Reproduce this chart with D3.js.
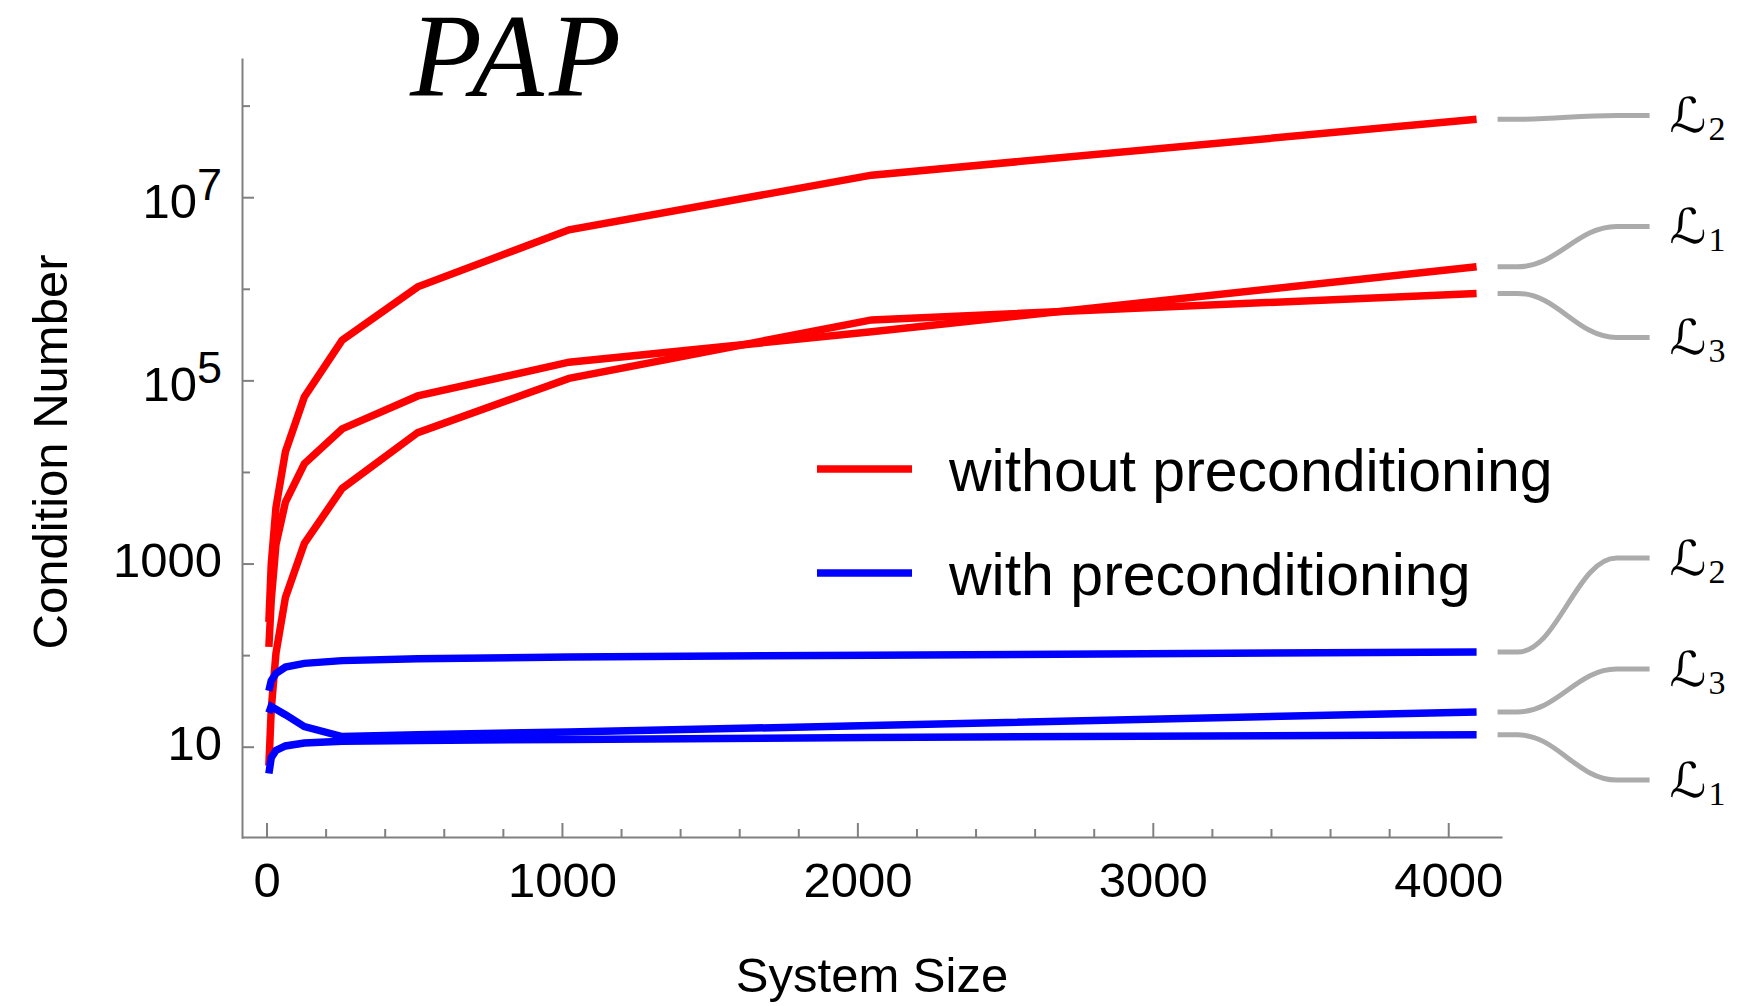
<!DOCTYPE html>
<html>
  <head>
    <meta charset="utf-8">
    <title>PAP condition numbers</title>
    <script src="https://cdn.jsdelivr.net/npm/d3@7"></script>
    <style>
      body { margin: 0; background: #fff; }
      #chart { display: block; width: 1753px; height: 1006px; font-family: "Liberation Sans", Arial, sans-serif; }
      .axis path, .axis line { stroke: #808080; stroke-width: 2; }
      .axis text { font-size: 49px; fill: #000; font-family: "Liberation Sans", Arial, sans-serif; }
      .series { fill: none; stroke-width: 7.5; stroke-linejoin: miter; stroke-linecap: butt; }
      .connector { fill: none; stroke: #ababab; stroke-width: 5; }
      .legendText { font-size: 59px; }
      .axisTitle { font-size: 49px; }
      #title { font-family: "Liberation Serif", "Times New Roman", serif; font-style: italic; font-size: 118px; letter-spacing: 5px; }
      .seriesLabel { font-family: "DejaVu Serif", "DejaVu Sans", serif; font-size: 48px; }
      .seriesSub { font-family: "Liberation Serif", serif; font-size: 34px; }
    </style>
  </head>

  <body>
    <svg id="chart">
      <text id="title">PAP</text>
      <g id="xAxisGroup" class="axis"></g>
      <g id="xMinorGroup" class="axis"></g>
      <g id="yAxisGroup" class="axis"></g>
      <g id="yMinorGroup" class="axis"></g>
      <text id="yLabel" class="axisTitle">Condition Number</text>
      <text id="xLabel" class="axisTitle">System Size</text>
      <g id="chartGroup"></g>
      <g id="connectorGroup"></g>
      <g id="legend"></g>
    </svg>

    <script>
      // data: system sizes and condition numbers
      const sizes = [8, 16, 32, 64, 128, 256, 512, 1024, 2048, 4096];

      // without preconditioning
      const redL2 = [230, 980, 4100, 16600, 66000, 275000, 1.05e6, 4.4e6, 1.74e7, 7.1e7];
      const redL1 = [123, 400, 1620, 4680, 12300, 29500, 67600, 158000, 339000, 1.74e6];
      const redL3 = [6.2, 25.7, 105, 427, 1660, 6600, 26900, 105000, 457000, 891000];

      // with preconditioning
      const blueL2 = [40.7, 52.5, 63.1, 74.1, 81.3, 87.1, 91.2, 95.5, 100, 108];
      const blueL3 = [23.4, 27.5, 25.7, 22.4, 16.6, 12.9, 13.5, 14.5, 17.0, 24.0];
      const blueL1 = [5.1, 7.6, 9.1, 10.2, 11.0, 11.5, 11.7, 12.0, 12.6, 13.5];

      const xMajorTicks = [0, 1000, 2000, 3000, 4000];
      const xMinorTicks = [200, 400, 600, 800, 1200, 1400, 1600, 1800, 2200, 2400, 2600, 2800, 3200, 3400, 3600, 3800];
      const yMajorTicks = [10, 1e3, 1e5, 1e7];
      const yMinorTicks = [100, 1e4, 1e6, 1e8];

      const legendLabels = ["without preconditioning", "with preconditioning"];

      const series = [
        { group: "red", label: "2", values: redL2 },
        { group: "red", label: "1", values: redL1 },
        { group: "red", label: "3", values: redL3 },
        { group: "blue", label: "2", values: blueL2 },
        { group: "blue", label: "3", values: blueL3 },
        { group: "blue", label: "1", values: blueL1 }
      ];
      const colours = { red: "#ff0000", blue: "#0000ff" };

      // elements
      chart = d3.select("#chart");
      chartGroup = d3.select("#chartGroup");
      connectorGroup = d3.select("#connectorGroup");
      legend = d3.select("#legend");

      // scales
      x = d3.scaleLinear()
        .domain([-83, 4182])
        .range([242, 1502]);
      y = d3.scaleLog()
        .domain([1, Math.pow(10, 8.52)])
        .range([838.3, 58]);
      axisY = 837;

      // x axis
      xAxis = d3.axisBottom(x)
        .tickValues(xMajorTicks)
        .tickFormat(d3.format("d"))
        .tickSizeInner(-14)
        .tickSizeOuter(0);
      d3.select("#xAxisGroup")
        .attr("transform", "translate(0," + axisY + ")")
        .call(xAxis)
        .selectAll("text")
        .attr("y", 60)
        .attr("dy", null);
      d3.select("#xMinorGroup")
        .attr("transform", "translate(0," + axisY + ")")
        .call(d3.axisBottom(x).tickValues(xMinorTicks).tickFormat("").tickSizeInner(-8).tickSizeOuter(0))
        .select(".domain").remove();

      // y axis
      yAxis = d3.axisLeft(y)
        .tickValues(yMajorTicks)
        .tickSizeInner(-12)
        .tickSizeOuter(0)
        .tickPadding(20)
        .tickFormat("");
      yAxisGroup = d3.select("#yAxisGroup")
        .attr("transform", "translate(242,0)")
        .call(yAxis);
      yAxisGroup.selectAll(".tick text")
        .attr("dy", null)
        .each(function(d) {
          let t = d3.select(this);
          let exp = Math.round(Math.log10(d));
          if (d >= 1e4) {
            t.attr("y", 20);
            t.append("tspan").text("10");
            t.append("tspan").attr("dy", -18).style("font-size", "45px").text(exp);
          } else {
            t.attr("y", 12.5).text(d3.format("d")(d));
          }
        });
      d3.select("#yMinorGroup")
        .attr("transform", "translate(242,0)")
        .call(d3.axisLeft(y).tickValues(yMinorTicks).tickFormat("").tickSizeInner(-8).tickSizeOuter(0))
        .select(".domain").remove();

      // axis titles
      d3.select("#yLabel")
        .attr("text-anchor", "middle")
        .attr("transform", "translate(67,452) rotate(-90)");
      d3.select("#xLabel")
        .attr("text-anchor", "middle")
        .attr("x", 872)
        .attr("y", 992);
      d3.select("#title")
        .attr("x", 410)
        .attr("y", 96);

      // lines
      line = d3.line()
        .x((d, i) => x(sizes[i]))
        .y(d => y(d));

      chartGroup.selectAll("path")
        .data(series)
        .join("path")
        .attr("class", "series")
        .attr("stroke", d => colours[d.group])
        .attr("d", d => line(d.values));

      // callout labels: spread label positions apart, keep them above the bottom
      const gap = 111;
      const maxLabelY = axisY - 57;
      let ends = series.map(s => ({ s: s, y0: y(s.values[s.values.length - 1]) }))
        .sort((a, b) => a.y0 - b.y0);
      let blocks = [];
      ends.forEach(e => {
        blocks.push({ items: [e], top: e.y0 });
        while (blocks.length > 1) {
          let a = blocks[blocks.length - 2], b = blocks[blocks.length - 1];
          if (a.top + a.items.length * gap > b.top) {
            let items = a.items.concat(b.items);
            let top = d3.mean(items, (it, i) => it.y0 - i * gap);
            top = Math.min(top, maxLabelY - (items.length - 1) * gap);
            blocks.splice(blocks.length - 2, 2, { items: items, top: top });
          } else break;
        }
        let last = blocks[blocks.length - 1];
        last.top = Math.min(last.top, maxLabelY - (last.items.length - 1) * gap);
      });
      blocks.forEach(b => b.items.forEach((it, i) => it.y1 = b.top + i * gap));

      xEnd = x(sizes[sizes.length - 1]);
      connector = (y0, y1) => {
        let a = xEnd + 21, b = xEnd + 41, c = xEnd + 140, e = xEnd + 173;
        let c1 = b + (c - b) * 0.4, c2 = b + (c - b) * 0.6;
        return "M" + a + "," + y0 + "H" + b +
          "C" + c1 + "," + y0 + " " + c2 + "," + y1 + " " + c + "," + y1 + "H" + e;
      };

      connectorGroup.selectAll("path")
        .data(ends)
        .join("path")
        .attr("class", "connector")
        .attr("d", d => connector(d.y0, d.y1));

      connectorGroup.selectAll("text.seriesLabel")
        .data(ends)
        .join("text")
        .attr("class", "seriesLabel")
        .attr("x", xEnd + 193)
        .attr("y", d => d.y1 + 17)
        .attr("textLength", 37)
        .attr("lengthAdjust", "spacingAndGlyphs")
        .text("\u2112");
      connectorGroup.selectAll("text.seriesSub")
        .data(ends)
        .join("text")
        .attr("class", "seriesSub")
        .attr("x", xEnd + 232)
        .attr("y", d => d.y1 + 25)
        .text(d => d.s.label);

      // legend
      legendRows = legend.selectAll("g")
        .data(legendLabels)
        .join("g")
        .attr("transform", (d, i) => "translate(0," + (469 + i * 104) + ")");
      legendRows.append("line")
        .attr("x1", 817)
        .attr("x2", 912)
        .attr("stroke", (d, i) => i == 0 ? colours.red : colours.blue)
        .attr("stroke-width", 7.5);
      legendRows.append("text")
        .attr("class", "legendText")
        .attr("x", 949)
        .attr("y", 22)
        .text(d => d);
    </script>
  </body>
</html>
